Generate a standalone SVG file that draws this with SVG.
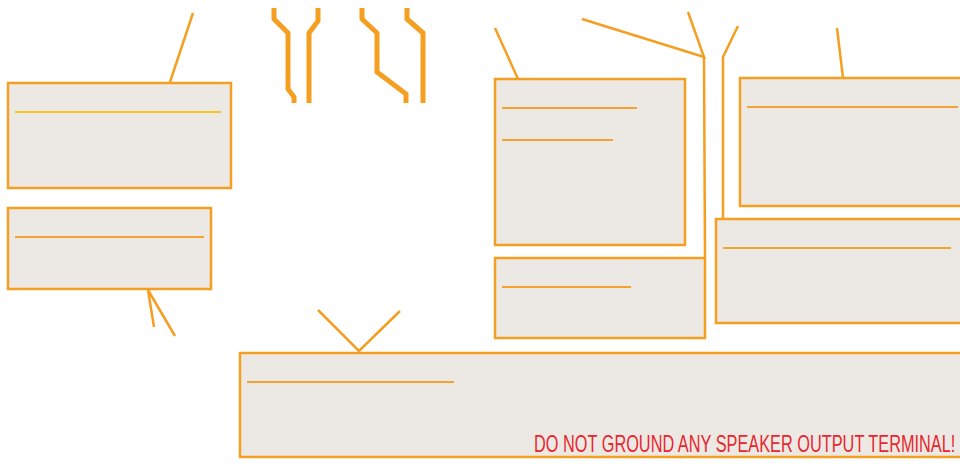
<svg xmlns="http://www.w3.org/2000/svg" width="960" height="464" viewBox="0 0 960 464">
<style>
.box{fill:#ece9e4;stroke:#f59f22;stroke-width:2.5}
.rule{stroke:#f5a230;stroke-width:2;fill:none}
.conn{stroke:#f59f22;stroke-width:2.5;fill:none}
.bar{stroke:#f59f22;stroke-width:5;fill:none}
.warn{fill:#e8262f;font-family:"Liberation Sans Narrow","Liberation Sans",Arial,sans-serif;font-size:23.5px}
</style>
<rect width="960" height="464" fill="#fff"/>
<g id="connectors">
<line class="conn" x1="170" y1="82" x2="193" y2="13"/>
<polyline class="conn" points="154,327 148,290 175,336"/>
<path class="bar" d="M274,8 V19 L288,33 V89 L294,97 V103"/>
<path class="bar" d="M318,8 V21 L309,33 V103"/>
<path class="bar" d="M362,8 V19 L377,33 V72 L406,94 V103"/>
<path class="bar" d="M407,8 V19 L423,33 V103"/>
<line class="conn" x1="518" y1="79" x2="495" y2="28"/>
<polyline class="conn" points="582,19 704,57 688,12"/>
<line class="conn" x1="704" y1="57" x2="705" y2="258"/>
<polyline class="conn" points="738,26 723,57 723,219"/>
<line class="conn" x1="837" y1="28" x2="843" y2="78"/>
<polyline class="conn" points="318,310 359,351 400,311"/>
</g>
<g id="node1">
<rect class="box" x="8" y="83" width="223" height="105"/>
<line class="rule" x1="15" y1="112" x2="221" y2="112" style="stroke:#f9c41e"/>
</g>
<g id="node2">
<rect class="box" x="8" y="208" width="203" height="81"/>
<line class="rule" x1="15" y1="237" x2="204" y2="237"/>
</g>
<g id="node3">
<rect class="box" x="495" y="79" width="190" height="166"/>
<line class="rule" x1="502" y1="108" x2="637" y2="108"/>
<line class="rule" x1="502" y1="140" x2="613" y2="140"/>
</g>
<g id="node4">
<rect class="box" x="495" y="258" width="210" height="80"/>
<line class="rule" x1="502" y1="287" x2="631" y2="287"/>
</g>
<g id="node5">
<rect class="box" x="740" y="78" width="230" height="128"/>
<line class="rule" x1="747" y1="107" x2="958" y2="107"/>
</g>
<g id="node6">
<rect class="box" x="716" y="219" width="254" height="104"/>
<line class="rule" x1="723" y1="248" x2="951" y2="248"/>
</g>
<g id="node7">
<rect class="box" x="240" y="353" width="730" height="104"/>
<line class="rule" x1="247" y1="382" x2="454" y2="382"/>
<text class="warn" transform="translate(534,452) scale(0.695,1)" x="0" y="0">DO NOT GROUND ANY SPEAKER OUTPUT TERMINAL!</text>
</g>
</svg>
